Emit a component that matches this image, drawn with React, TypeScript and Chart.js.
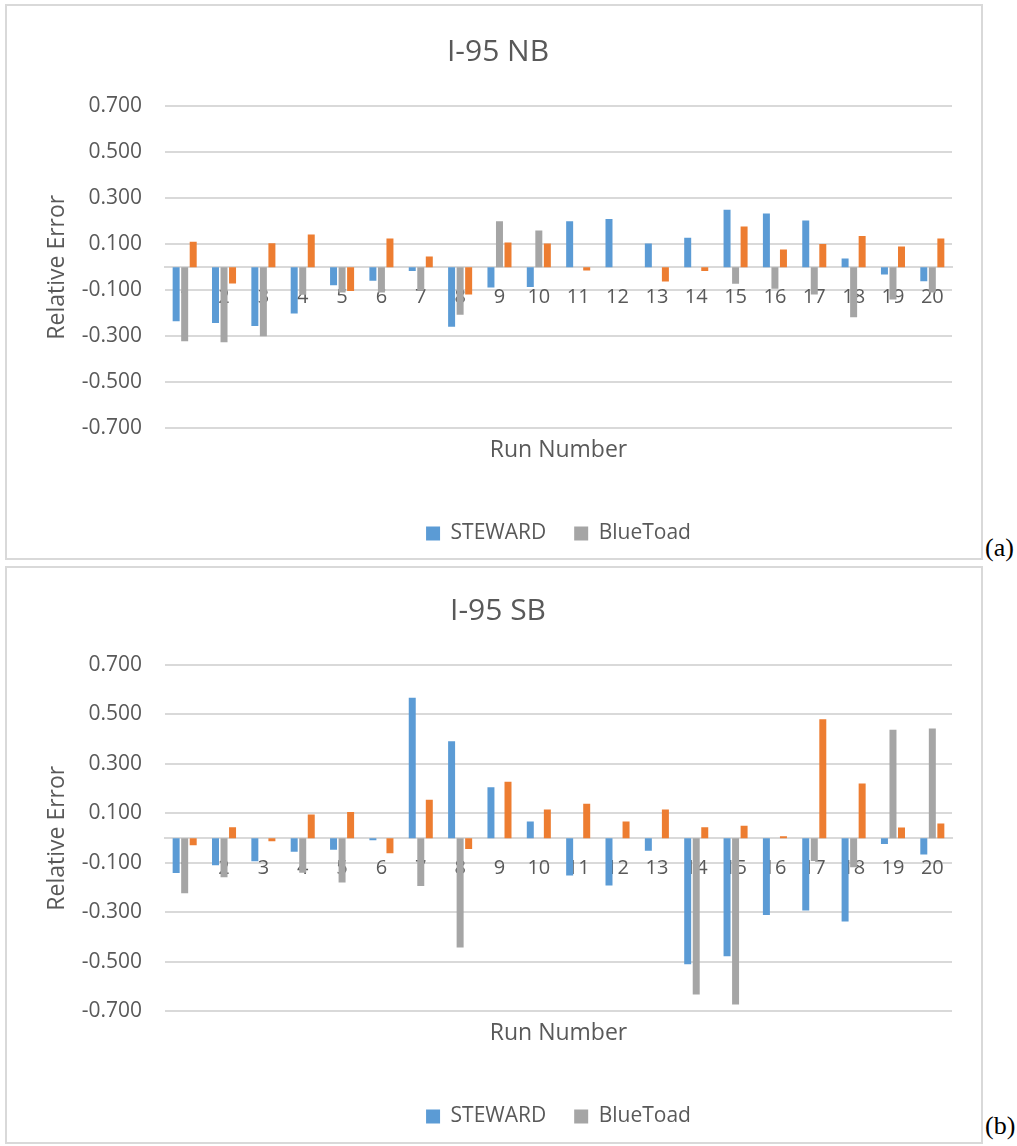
import React, { useEffect, useRef } from 'react';
import { Chart, registerables } from 'chart.js';

Chart.register(...registerables);

// ---------- data ----------
const runNumbers = ['1', '2', '3', '4', '5', '6', '7', '8', '9', '10', '11', '12', '13', '14', '15', '16', '17', '18', '19', '20'];
const yTickValues = [-0.7, -0.5, -0.3, -0.1, 0.1, 0.3, 0.5, 0.7];

const nbSteward = [-0.235, -0.242, -0.255, -0.201, -0.078, -0.059, -0.016, -0.259, -0.088, -0.086, 0.199, 0.209, 0.103, 0.128, 0.249, 0.233, 0.203, 0.038, -0.032, -0.061];
const nbBlueToad = [-0.322, -0.326, -0.300, -0.120, -0.110, -0.110, -0.100, -0.207, 0.199, 0.159, 0, 0, 0, 0, -0.072, -0.094, -0.119, -0.217, -0.140, -0.110];
const nbThird = [0.110, -0.071, 0.104, 0.142, -0.103, 0.125, 0.046, -0.119, 0.107, 0.103, -0.014, 0, -0.062, -0.017, 0.177, 0.077, 0.101, 0.135, 0.090, 0.125];

const sbSteward = [-0.141, -0.109, -0.093, -0.055, -0.047, -0.008, 0.568, 0.392, 0.206, 0.067, -0.151, -0.191, -0.051, -0.509, -0.477, -0.310, -0.292, -0.337, -0.023, -0.066];
const sbBlueToad = [-0.222, -0.158, 0, -0.140, -0.179, 0, -0.193, -0.442, 0, 0, 0, 0, 0, -0.632, -0.672, 0, -0.092, -0.117, 0.438, 0.443];
const sbThird = [-0.028, 0.044, -0.012, 0.096, 0.106, -0.061, 0.155, -0.044, 0.228, 0.116, 0.139, 0.067, 0.116, 0.044, 0.050, 0.008, 0.481, 0.221, 0.043, 0.059];

// ---------- style ----------
const BLUE = '#5B9BD5';
const GRAY = '#A5A5A5';
const ORANGE = '#ED7D31';
const TEXT = '#595959';
const GRID = '#d9d9d9';
const FONT = "'Open Sans', 'Noto Sans', sans-serif";

type Layout = {
  titleTop: number;
  titleBottom: number;
  runTop: number;
  runBottom: number;
  bottomPad: number;
};

function ErrorChart(props: {
  title: string;
  steward: number[];
  bluetoad: number[];
  third: number[];
  width: number;
  height: number;
  lay: Layout;
}) {
  const ref = useRef<HTMLCanvasElement>(null);
  const { title, steward, bluetoad, third, width, height, lay } = props;

  useEffect(() => {
    const chart = new Chart(ref.current as HTMLCanvasElement, {
      type: 'bar',
      data: {
        labels: runNumbers,
        datasets: [
          { label: 'STEWARD', data: steward, backgroundColor: BLUE, borderWidth: 0 },
          { label: 'BlueToad', data: bluetoad, backgroundColor: GRAY, borderWidth: 0 },
          { label: 'Series3', data: third, backgroundColor: ORANGE, borderWidth: 0 },
        ],
      },
      options: {
        responsive: false,
        animation: false,
        devicePixelRatio: 1,
        layout: { padding: { left: 37, right: 29, top: 0, bottom: lay.bottomPad } },
        datasets: { bar: { categoryPercentage: 0.65, barPercentage: 0.82 } },
        plugins: {
          title: {
            display: true,
            text: title,
            color: TEXT,
            font: { family: FONT, size: 30, weight: 'normal' },
            padding: { top: lay.titleTop, bottom: lay.titleBottom },
          },
          legend: {
            position: 'bottom',
            fullSize: false,
            labels: {
              color: TEXT,
              font: { family: FONT, size: 21 },
              boxWidth: 14,
              boxHeight: 14,
              padding: 28,
              filter: (item: any) => item.datasetIndex < 2,
            },
          },
          tooltip: { enabled: false },
        },
        scales: {
          x: {
            type: 'category',
            position: { y: 0 } as any,
            z: 1,
            grid: { display: false, drawTicks: false },
            border: { display: true, color: GRID, width: 2 },
            ticks: {
              color: TEXT,
              font: { family: FONT, size: 20 },
              padding: 18,
              maxRotation: 0,
              autoSkip: false,
            },
          },
          x2: {
            type: 'category',
            position: 'bottom',
            grid: { display: false, drawTicks: false },
            border: { display: false },
            ticks: { display: false },
            title: {
              display: true,
              text: 'Run Number',
              color: TEXT,
              font: { family: FONT, size: 23 },
              padding: { top: lay.runTop, bottom: lay.runBottom },
            },
          },
          y: {
            type: 'linear',
            min: -0.7,
            max: 0.7,
            afterBuildTicks: (s: any) => {
              s.ticks = yTickValues.map((v) => ({ value: v }));
            },
            afterFit: (s: any) => {
              s.width = 121;
            },
            grid: { color: GRID, lineWidth: 2, drawTicks: false },
            border: { display: false },
            ticks: {
              color: TEXT,
              font: { family: FONT, size: 21 },
              padding: 23,
              callback: (v: any) => Number(v).toFixed(3),
            },
            title: {
              display: true,
              text: 'Relative Error',
              color: TEXT,
              font: { family: FONT, size: 23 },
              padding: { top: 0, bottom: 0 },
            },
          },
        },
      },
    });
    return () => chart.destroy();
  }, []);

  return <canvas ref={ref} width={width} height={height} style={{ width, height, display: 'block' }} />;
}

const boxStyle = (top: number, height: number): React.CSSProperties => ({
  position: 'absolute',
  left: 5,
  top,
  width: 978,
  height,
  border: `2px solid ${GRID}`,
  boxSizing: 'border-box',
  background: '#fff',
});

const tagStyle = (top: number): React.CSSProperties => ({
  position: 'absolute',
  left: 985,
  top,
  fontFamily: "'Liberation Serif', 'Times New Roman', serif",
  fontSize: 26,
  lineHeight: '26px',
  color: '#000',
});

export default function App() {
  return (
    <div style={{ position: 'absolute', left: 0, top: 0, width: 1017, height: 1146, background: '#fff' }}>
      <div style={boxStyle(4, 556)}>
        <ErrorChart
          title="I-95 NB"
          steward={nbSteward}
          bluetoad={nbBlueToad}
          third={nbThird}
          width={974}
          height={552}
          lay={{ titleTop: 28, titleBottom: 36, runTop: 8, runBottom: 31, bottomPad: 4 }}
        />
      </div>
      <span style={tagStyle(535)}>(a)</span>
      <div style={boxStyle(566, 578)}>
        <ErrorChart
          title="I-95 SB"
          steward={sbSteward}
          bluetoad={sbBlueToad}
          third={sbThird}
          width={974}
          height={574}
          lay={{ titleTop: 25, titleBottom: 36, runTop: 8, runBottom: 31, bottomPad: 5 }}
        />
      </div>
      <span style={tagStyle(1113)}>(b)</span>
    </div>
  );
}
